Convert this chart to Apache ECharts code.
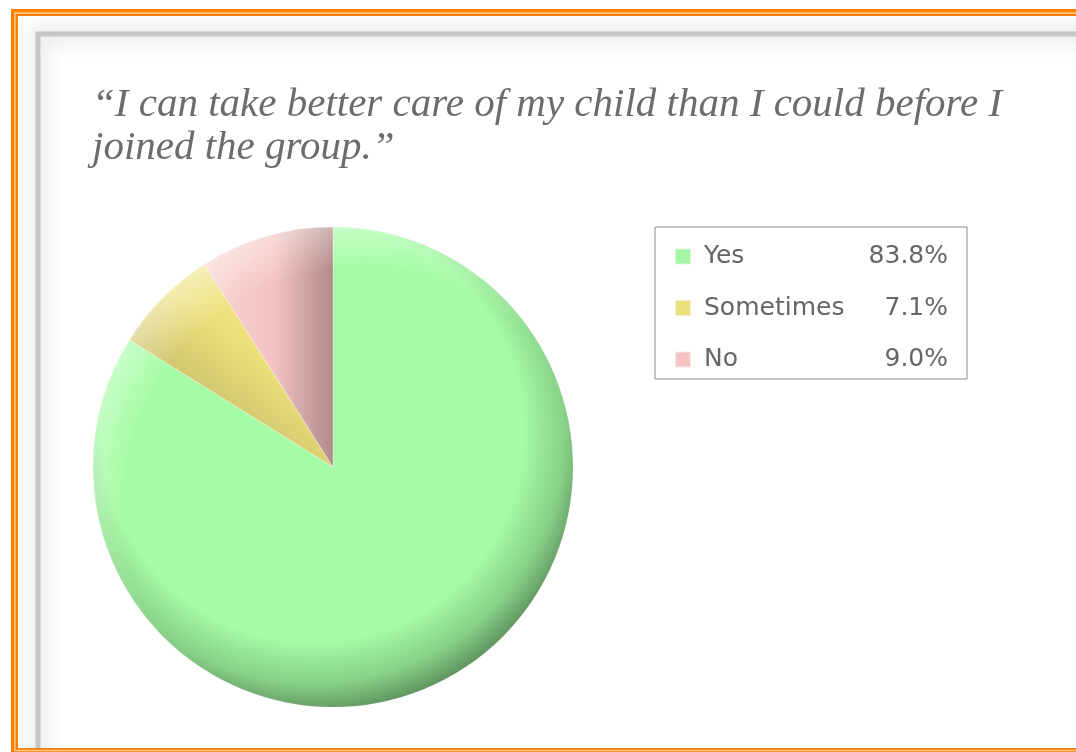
<!DOCTYPE html>
<html>
<head>
<meta charset="utf-8">
<script src="https://cdn.jsdelivr.net/npm/echarts@6/dist/echarts.min.js"></script>
<style>
html,body{margin:0;padding:0;background:#fff;}
#chart{width:1076px;height:752px;}
</style>
</head>
<body>
<div id="chart"></div>
<script>
const titleText = '\u201CI can take better care of my child than I could before I\njoined the group.\u201D';
const categories = ['Yes', 'Sometimes', 'No'];
const values = [83.8, 7.1, 9.0];
const valueLabels = ['83.8%', '7.1%', '9.0%'];
const flatColors = ['#a4f5a4', '#ece07c', '#f4c4c4'];

const CX = 333, CY = 467, R = 240;

const sliceColors = [
  '#a6fca6',
  {type:'linear', x:1, y:0, x2:0.2, y2:1, colorStops:[
    {offset:0, color:'#f6ec9a'}, {offset:0.45, color:'#ece07a'}, {offset:1, color:'#b3a863'}]},
  {type:'linear', x:0, y:0, x2:1, y2:0, colorStops:[
    {offset:0, color:'#f8d2d2'}, {offset:0.55, color:'#f3c2c2'}, {offset:1, color:'#b08a8a'}]}
];

const chart = echarts.init(document.getElementById('chart'), null, {renderer:'canvas'});

const overlayBase = {
  type:'pie', center:[CX, CY], radius:R, silent:true, startAngle:90,
  label:{show:false}, labelLine:{show:false}, emphasis:{disabled:true},
  tooltip:{show:false}, animation:false
};

chart.setOption({
  animation:false,
  backgroundColor:'#ffffff',
  title:{
    text:titleText,
    left:87, top:79,
    textStyle:{fontFamily:'Liberation Serif', fontStyle:'italic', fontWeight:'normal',
      fontSize:41, color:'#6b6b70', lineHeight:43}
  },
  legend:{
    orient:'vertical',
    left:655, top:227,
    data:categories.map((c, i) => ({name:c, itemStyle:{color:flatColors[i]}})),
    itemWidth:16, itemHeight:16, itemGap:26.5,
    icon:'rect',
    borderColor:'#8a8a8a', borderWidth:1,
    padding:[17, 19, 7, 19],
    selectedMode:false,
    formatter:function(name){
      const i = categories.indexOf(name);
      return '{n|' + name + '}{v|' + valueLabels[i] + '}';
    },
    textStyle:{
      color:'#666666', fontFamily:'DejaVu Sans', fontSize:25,
      rich:{
        n:{width:150, padding:[0,0,0,8], fontSize:25, fontFamily:'DejaVu Sans', color:'#666666'},
        v:{width:94, align:'right', fontSize:25, fontFamily:'DejaVu Sans', color:'#666666'}
      }
    }
  },
  graphic:[
    {type:'rect', z:-9, shape:{x:38, y:34, width:1200, height:1000}, style:{fill:null, stroke:'#c6c6c6', lineWidth:5, shadowBlur:22, shadowColor:'#b8b8b8'}},
    {type:'rect', z:-8, shape:{x:14.5, y:12.5, width:1200, height:739}, style:{fill:null, stroke:'#ff8000', lineWidth:7}},
    {type:'rect', z:-7, shape:{x:15, y:13, width:1200, height:737.5}, style:{fill:null, stroke:'#ffc890', lineWidth:1.5}}
  ],
  series:[
    {
      type:'pie', center:[CX, CY], radius:R, startAngle:90, clockwise:true,
      label:{show:false}, labelLine:{show:false},
      emphasis:{disabled:true},
      itemStyle:{borderColor:'rgba(255,255,255,0.6)', borderWidth:0.5},
      data: categories.map((c, i) => ({name:c, value:values[i], itemStyle:{color:sliceColors[i]}})),
      z:2
    },
    Object.assign({}, overlayBase, {
      z:3,
      itemStyle:{borderWidth:0, color:{type:'radial', x:CX-20, y:CY-35, r:292, global:true, colorStops:[
        {offset:0, color:'rgba(0,0,0,0)'}, {offset:0.72, color:'rgba(0,0,0,0)'},
        {offset:0.86, color:'rgba(20,40,20,0.2)'}, {offset:1, color:'rgba(20,40,20,0.6)'}]}},
      data:[{name:'_shade', value:1}]
    }),
    Object.assign({}, overlayBase, {
      z:4,
      itemStyle:{borderWidth:0, color:{type:'radial', x:CX+30, y:CY+40, r:292, global:true, colorStops:[
        {offset:0, color:'rgba(255,255,255,0)'}, {offset:0.82, color:'rgba(255,255,255,0)'},
        {offset:1, color:'rgba(255,255,255,0.45)'}]}},
      data:[{name:'_light', value:1}]
    })
  ]
});
</script>
</body>
</html>
